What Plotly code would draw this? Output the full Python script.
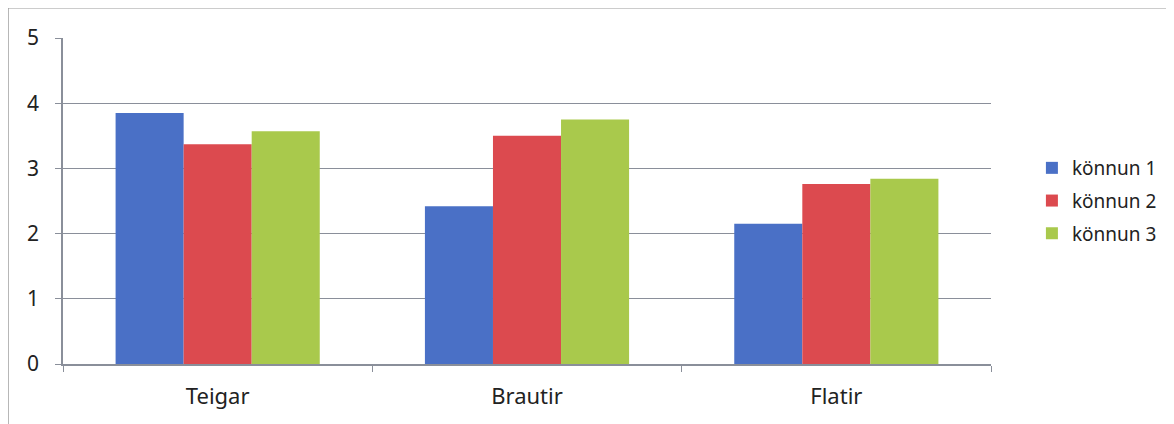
import plotly.graph_objects as go

categories = ["Teigar", "Brautir", "Flatir"]
series_names = ["könnun 1", "könnun 2", "könnun 3"]
konnun1 = [3.85, 2.42, 2.15]
konnun2 = [3.37, 3.50, 2.76]
konnun3 = [3.57, 3.75, 2.84]
colors = ["#4a70c6", "#dc4a4f", "#a9c94c"]

fig = go.Figure()
for name, vals, col in zip(series_names, [konnun1, konnun2, konnun3], colors):
    fig.add_trace(go.Bar(x=categories, y=vals, name=name, legendgroup=name,
                         marker=dict(color=col, line=dict(width=0))))

axis_col = "#8a8f9a"
OFF = 8  # page body margin
W, H = 1174 - OFF, 424 - OFF
ml, mt = 63 - OFF, 38 - OFF
pw, ph = 930, 326
mr, mb = W - ml - pw, H - mt - ph

fig.update_layout(
    width=W, height=H,
    margin=dict(l=ml, r=mr, t=mt, b=mb, pad=0),
    paper_bgcolor="white", plot_bgcolor="white",
    barmode="group", bargap=0.34, bargroupgap=0,
    font=dict(family="Noto Sans, Open Sans, sans-serif", size=20, color="#222222"),
    showlegend=True,
    legend=dict(x=1.0 + (1034 - 993) / pw, y=0.5, xanchor="left", yanchor="middle",
                font=dict(size=19, color="#222222"), itemwidth=30, tracegroupgap=5,
                bgcolor="rgba(0,0,0,0)"),
    xaxis=dict(showline=True, linecolor=axis_col, linewidth=1.5, ticks="outside",
               tickson="boundaries", ticklen=6, tickcolor=axis_col, showgrid=False,
               tickfont=dict(size=22), mirror=False, automargin=False,
               ticklabelstandoff=12),
    yaxis=dict(range=[0, 5], dtick=1, showline=True, linecolor=axis_col, linewidth=1.5,
               ticks="outside", ticklen=6, tickcolor=axis_col, showgrid=True,
               gridcolor=axis_col, gridwidth=1.2, zeroline=False,
               tickfont=dict(size=21), ticklabelstandoff=12, automargin=False),
)

# outer chart border (top and left visible)
bx = (8 - 63) / pw
by = 1 + (38 - 8) / ph
fig.add_shape(type="line", xref="paper", yref="paper", x0=bx, x1=(1174 - 63) / pw, y0=by, y1=by,
              line=dict(color="#9a9a9a", width=1.2))
fig.add_shape(type="line", xref="paper", yref="paper", x0=bx, x1=bx, y0=by, y1=-(60 + 5) / ph,
              line=dict(color="#9a9a9a", width=1.2))

fig.write_html("out.html")
